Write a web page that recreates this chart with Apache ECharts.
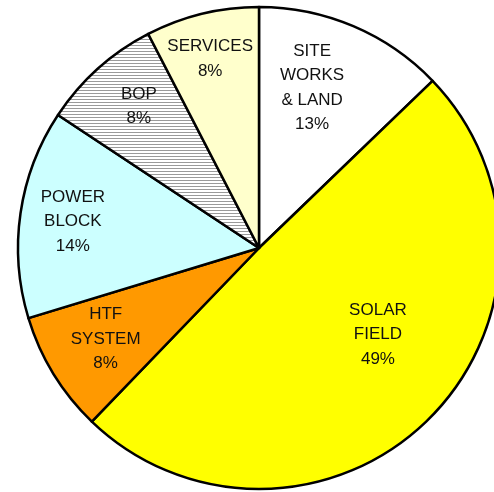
<!DOCTYPE html>
<html>
<head>
<meta charset="utf-8">
<script src="https://cdn.jsdelivr.net/npm/echarts@6/dist/echarts.min.js"></script>
<style>
html,body{margin:0;padding:0;background:#fff;}
#chart{width:494px;height:492px;}
</style>
</head>
<body>
<div id="chart"></div>
<script>
const categories = ['SITE\nWORKS\n& LAND', 'SOLAR\nFIELD', 'HTF\nSYSTEM', 'POWER\nBLOCK', 'BOP', 'SERVICES'];
const values = [12.8, 49.4, 8.1, 14.0, 8.1, 7.6];

const sliceColors = ['#FFFFFF', '#FFFF00', '#FF9900', '#CCFFFF', 'HATCH', '#FFFFCC'];
const labelRadiusFrac = [0.70, 0.61, 0.74, 0.78, 0.77, 0.81];
const labelAngleShift = [-4.7, -9, 0.8, -0.2, 1.6, -0.8];

const CX = 259, CY = 248, R = 241;

function hatch() {
  const c = document.createElement('canvas');
  c.width = 8; c.height = 3;
  const g = c.getContext('2d');
  g.fillStyle = '#ffffff'; g.fillRect(0, 0, 8, 3);
  g.fillStyle = '#9a9a9a'; g.fillRect(0, 0, 8, 1);
  return { image: c, repeat: 'repeat' };
}

const total = values.reduce((a, b) => a + b, 0);
const midAngles = [];
let acc = 0;
values.forEach(v => { midAngles.push((acc + v / 2) / total * 360); acc += v; });

const chart = echarts.init(document.getElementById('chart'), null, { renderer: 'canvas' });
chart.setOption({
  backgroundColor: '#ffffff',
  animation: false,
  series: [{
    type: 'pie',
    center: [CX, CY],
    radius: [0, R],
    startAngle: 90,
    clockwise: true,
    avoidLabelOverlap: false,
    emphasis: { disabled: true },
    itemStyle: { borderColor: '#000', borderWidth: 2.5 },
    label: {
      show: true,
      position: 'inside',
      color: '#111',
      fontFamily: 'Liberation Sans, Arial, sans-serif',
      fontSize: 17,
      lineHeight: 24.5,
      align: 'center',
      verticalAlign: 'middle',
      formatter: p => p.name + '\n' + Math.round(p.value / total * 100) + '%'
    },
    labelLine: { show: false },
    labelLayout: function (params) {
      const i = params.dataIndex;
      const a = (midAngles[i] + labelAngleShift[i]) * Math.PI / 180;
      const r = R * labelRadiusFrac[i];
      return { x: CX + r * Math.sin(a), y: CY - r * Math.cos(a), align: 'center', verticalAlign: 'middle' };
    },
    data: categories.map((c, i) => ({
      name: c,
      value: values[i],
      itemStyle: { color: sliceColors[i] === 'HATCH' ? hatch() : sliceColors[i] }
    }))
  }]
});
</script>
</body>
</html>
